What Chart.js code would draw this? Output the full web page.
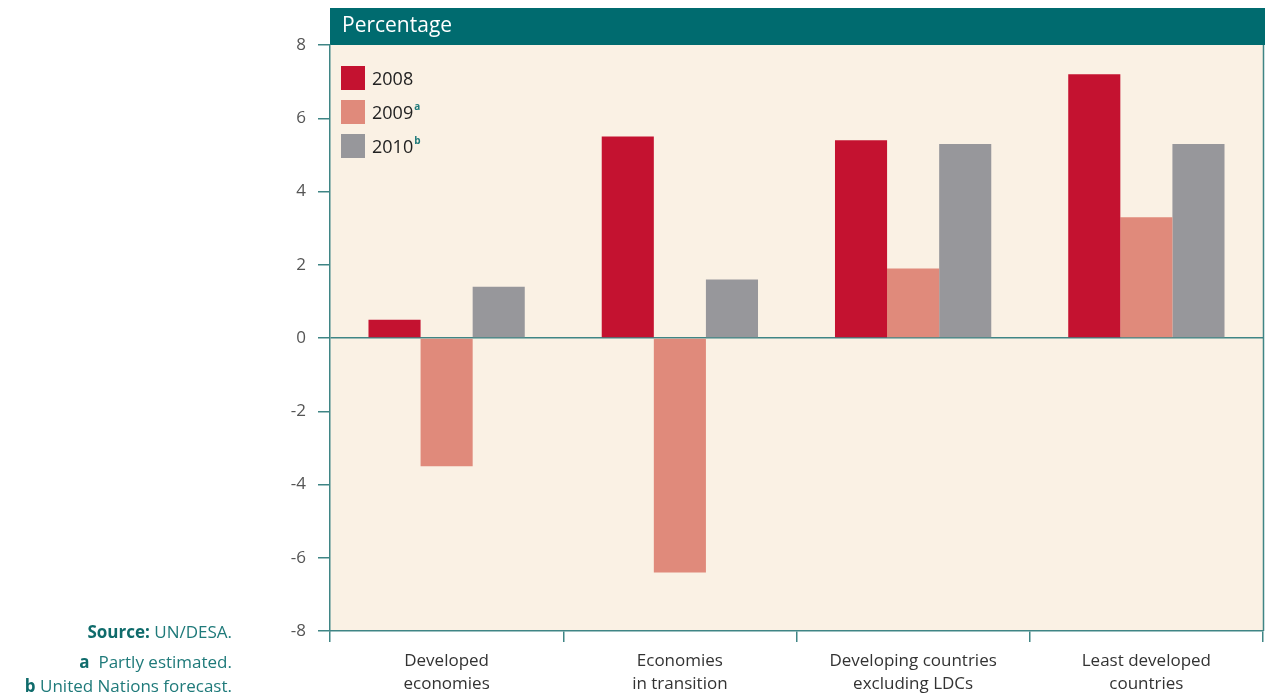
<!DOCTYPE html>
<html>
<head>
<meta charset="utf-8">
<script src="https://cdn.jsdelivr.net/npm/chart.js@4/dist/chart.umd.min.js"></script>
<style>
  html, body { margin: 0; padding: 0; background: #fff; }
  #wrap { position: relative; width: 1266px; height: 700px; font-family: 'Open Sans', 'Noto Sans', sans-serif; }
  canvas { position: absolute; left: 0; top: 0; }
  .note { position: absolute; right: 1034px; color: #1f7a7a; font-size: 17px; white-space: nowrap; }
  .note b { color: #0f6b6b; }
</style>
</head>
<body>
<div id="wrap">
  <canvas id="chart" width="1266" height="700"></canvas>
  <div class="note" style="top:620px"><b>Source:</b> UN/DESA.</div>
  <div class="note" style="top:650px"><b>a</b>&nbsp; Partly estimated.</div>
  <div class="note" style="top:674px"><b>b</b>&nbsp;United Nations forecast.</div>
</div>
<script>
// data
const categories = [
    ['Developed', 'economies'],
    ['Economies', 'in transition'],
    ['Developing countries', 'excluding LDCs'],
    ['Least developed', 'countries']
];
const seriesNames = ['2008', '2009', '2010'];
const seriesMarks = ['', 'a', 'b'];
const values2008 = [0.5, 5.5, 5.4, 7.2];
const values2009 = [-3.5, -6.4, 1.9, 3.3];
const values2010 = [1.4, 1.6, 5.3, 5.3];
const yTicks = [-8, -6, -4, -2, 0, 2, 4, 6, 8];

const colors = ['#c41230', '#e08a7b', '#97979b'];
const teal = '#006b6f';
const axisTeal = '#3f8585';
const bg = '#faf1e4';
const fontFam = "'Open Sans', 'Noto Sans', sans-serif";

// background, header band and right border
const framePlugin = {
    id: 'frame',
    beforeDraw(chart) {
        const { ctx, chartArea: a } = chart;
        ctx.save();
        ctx.fillStyle = bg;
        ctx.fillRect(a.left, a.top, a.right - a.left, a.bottom - a.top);
        ctx.fillStyle = teal;
        ctx.fillRect(a.left, 8, a.right - a.left + 2, a.top - 8);
        ctx.fillStyle = '#ffffff';
        ctx.font = '21px ' + fontFam;
        ctx.textBaseline = 'middle';
        ctx.fillText('Percentage', a.left + 12, 26);
        ctx.restore();
    },
    afterDraw(chart) {
        const { ctx, chartArea: a } = chart;
        ctx.save();
        ctx.strokeStyle = axisTeal;
        ctx.lineWidth = 1.5;
        ctx.beginPath();
        ctx.moveTo(a.right + 0.5, a.top);
        ctx.lineTo(a.right + 0.5, a.bottom);
        ctx.stroke();

        // legend
        const x0 = a.left + 11;
        chart.data.datasets.forEach((ds, i) => {
            const top = a.top + 21 + i * 34;
            ctx.fillStyle = ds.backgroundColor;
            ctx.fillRect(x0, top, 24, 24);
            ctx.fillStyle = '#222';
            ctx.font = '18px ' + fontFam;
            ctx.textBaseline = 'middle';
            ctx.fillText(seriesNames[i], x0 + 31, top + 14);
            if (seriesMarks[i]) {
                const w = ctx.measureText(seriesNames[i]).width;
                ctx.fillStyle = '#1f7a7a';
                ctx.font = 'bold 10px ' + fontFam;
                ctx.fillText(seriesMarks[i], x0 + 32 + w, top + 7);
            }
        });
        ctx.restore();
    }
};

new Chart(document.getElementById('chart'), {
    type: 'bar',
    data: {
        labels: categories,
        datasets: [
            { label: seriesNames[0], data: values2008, backgroundColor: colors[0] },
            { label: seriesNames[1], data: values2009, backgroundColor: colors[1] },
            { label: seriesNames[2], data: values2010, backgroundColor: colors[2] }
        ]
    },
    options: {
        responsive: false,
        animation: false,
        layout: { padding: { left: 250, right: 3, top: 45, bottom: 0 } },
        datasets: { bar: { categoryPercentage: 0.67, barPercentage: 1.0 } },
        plugins: { legend: { display: false }, tooltip: { enabled: false } },
        scales: {
            x: {
                grid: { offset: true, drawOnChartArea: false, tickColor: axisTeal, tickLength: 11, lineWidth: 1.5 },
                border: { color: axisTeal, width: 1.5 },
                ticks: { color: '#333', font: { family: fontFam, size: 17, lineHeight: 1.35 }, padding: 8, maxRotation: 0 },
                afterFit(scale) { scale.height = 69; }
            },
            y: {
                min: -8,
                max: 8,
                afterBuildTicks(scale) { scale.ticks = yTicks.map(v => ({ value: v })); },
                grid: {
                    color: c => (c.tick && c.tick.value === 0) ? axisTeal : 'transparent',
                    tickColor: axisTeal,
                    tickLength: 12,
                    lineWidth: 1.5
                },
                border: { color: axisTeal, width: 1.5 },
                ticks: { color: '#555', font: { family: fontFam, size: 17 }, padding: 12 },
                afterFit(scale) { scale.width = 80; }
            }
        }
    },
    plugins: [framePlugin]
});
</script>
</body>
</html>
